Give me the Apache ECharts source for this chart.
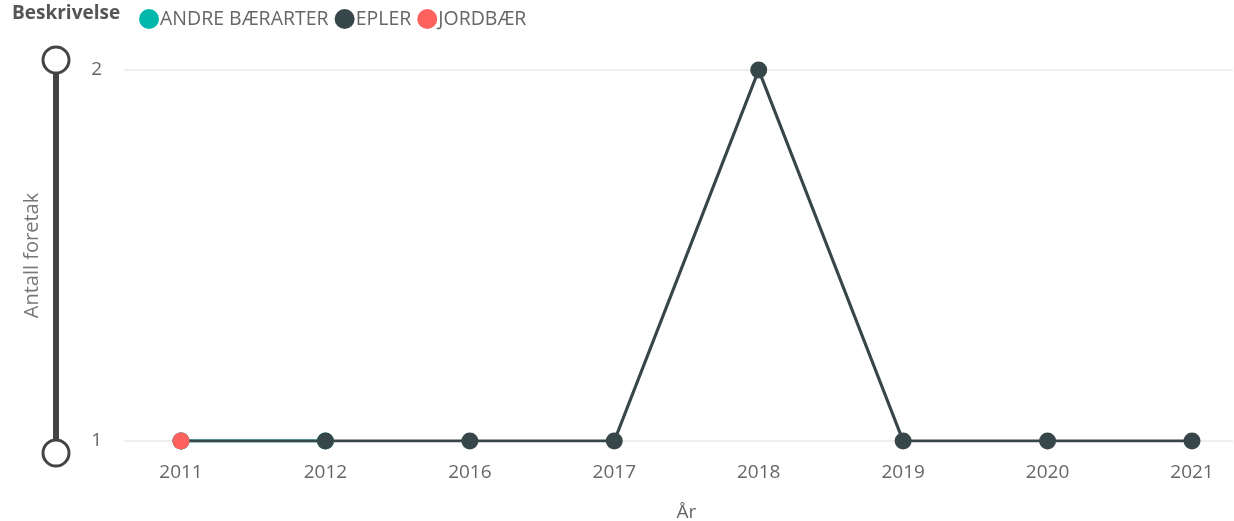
<!DOCTYPE html>
<html>
<head>
<meta charset="utf-8">
<script src="https://cdn.jsdelivr.net/npm/echarts@6/dist/echarts.min.js"></script>
<style>
  html, body { margin: 0; padding: 0; background: #fff; }
  #main { width: 1234px; height: 521px; }
</style>
</head>
<body>
<div id="main"></div>
<script>
var years = ['2011', '2012', '2016', '2017', '2018', '2019', '2020', '2021'];
var andreBaerarter = [1, 1, null, null, null, null, null, null];
var epler = [1, 1, 1, 1, 2, 1, 1, 1];
var jordbaer = [1, null, null, null, null, null, null, null];
var yTicks = [1, 2];

var FONT = '"Open Sans", "Noto Sans", sans-serif';
var colors = { andre: '#01B8AA', epler: '#374649', jordbaer: '#FD625E' };

var myChart = echarts.init(document.getElementById('main'));

function lineSeries(name, data, color, z) {
  return {
    name: name,
    type: 'line',
    xAxisIndex: 1,
    yAxisIndex: 1,
    data: data,
    z: z,
    color: color,
    symbol: 'circle',
    symbolSize: 17,
    showAllSymbol: true,
    connectNulls: false,
    lineStyle: { width: 3.2, color: color },
    itemStyle: { color: color },
    emphasis: { disabled: true }
  };
}

var option = {
  animation: false,
  textStyle: { fontFamily: FONT },
  legend: {
    left: 134,
    top: 4,
    itemWidth: 20,
    itemHeight: 20,
    itemGap: 6,
    icon: 'circle',
    textStyle: { fontFamily: FONT, fontSize: 19.5, color: '#666', padding: [0, 0, 0, -4] },
    data: ['ANDRE BÆRARTER', 'EPLER', 'JORDBÆR']
  },
  graphic: [
    { type: 'text', left: 12, top: 4, style: { text: 'Beskrivelse', font: 'bold 19px ' + FONT, fill: '#555' } },
    { type: 'rect', shape: { x: 53, y: 62, width: 6, height: 380 }, style: { fill: '#444' } },
    { type: 'circle', shape: { cx: 56, cy: 60, r: 13 }, style: { fill: '#fff', stroke: '#444', lineWidth: 3 } },
    { type: 'circle', shape: { cx: 56, cy: 453, r: 13 }, style: { fill: '#fff', stroke: '#444', lineWidth: 3 } }
  ],
  grid: [
    { left: 124, right: 1, top: 70, bottom: 80, outerBoundsMode: 'none', containLabel: false },
    { left: 181, right: 42, top: 70, bottom: 80, outerBoundsMode: 'none', containLabel: false }
  ],
  xAxis: [
    { type: 'category', gridIndex: 0, data: years, show: false },
    {
      type: 'category',
      gridIndex: 1,
      data: years,
      boundaryGap: false,
      name: 'År',
      nameLocation: 'middle',
      nameGap: 62,
      nameTextStyle: { fontSize: 19, color: '#666', fontFamily: FONT },
      axisLine: { show: false },
      axisTick: { show: false },
      axisLabel: { fontSize: 19, color: '#666', margin: 22, fontFamily: FONT }
    }
  ],
  yAxis: [
    {
      type: 'value',
      gridIndex: 0,
      min: 1,
      max: 2,
      interval: 1,
      name: 'Antall foretak',
      nameLocation: 'middle',
      nameGap: 82,
      nameTextStyle: { fontSize: 20, color: '#777', fontFamily: FONT },
      axisLine: { show: false },
      axisTick: { show: false },
      axisLabel: {
        fontSize: 19, color: '#666', margin: 22, fontFamily: FONT,
        formatter: function (v) { return yTicks.indexOf(v) >= 0 ? String(v) : ''; }
      },
      splitLine: { lineStyle: { color: '#e8e8e8', width: 1.5 } }
    },
    {
      type: 'value',
      gridIndex: 1,
      min: 1,
      max: 2,
      interval: 1,
      show: false
    }
  ],
  series: [
    lineSeries('ANDRE BÆRARTER', andreBaerarter, colors.andre, 2),
    lineSeries('EPLER', epler, colors.epler, 3),
    lineSeries('JORDBÆR', jordbaer, colors.jordbaer, 4)
  ]
};

myChart.setOption(option);
</script>
</body>
</html>
